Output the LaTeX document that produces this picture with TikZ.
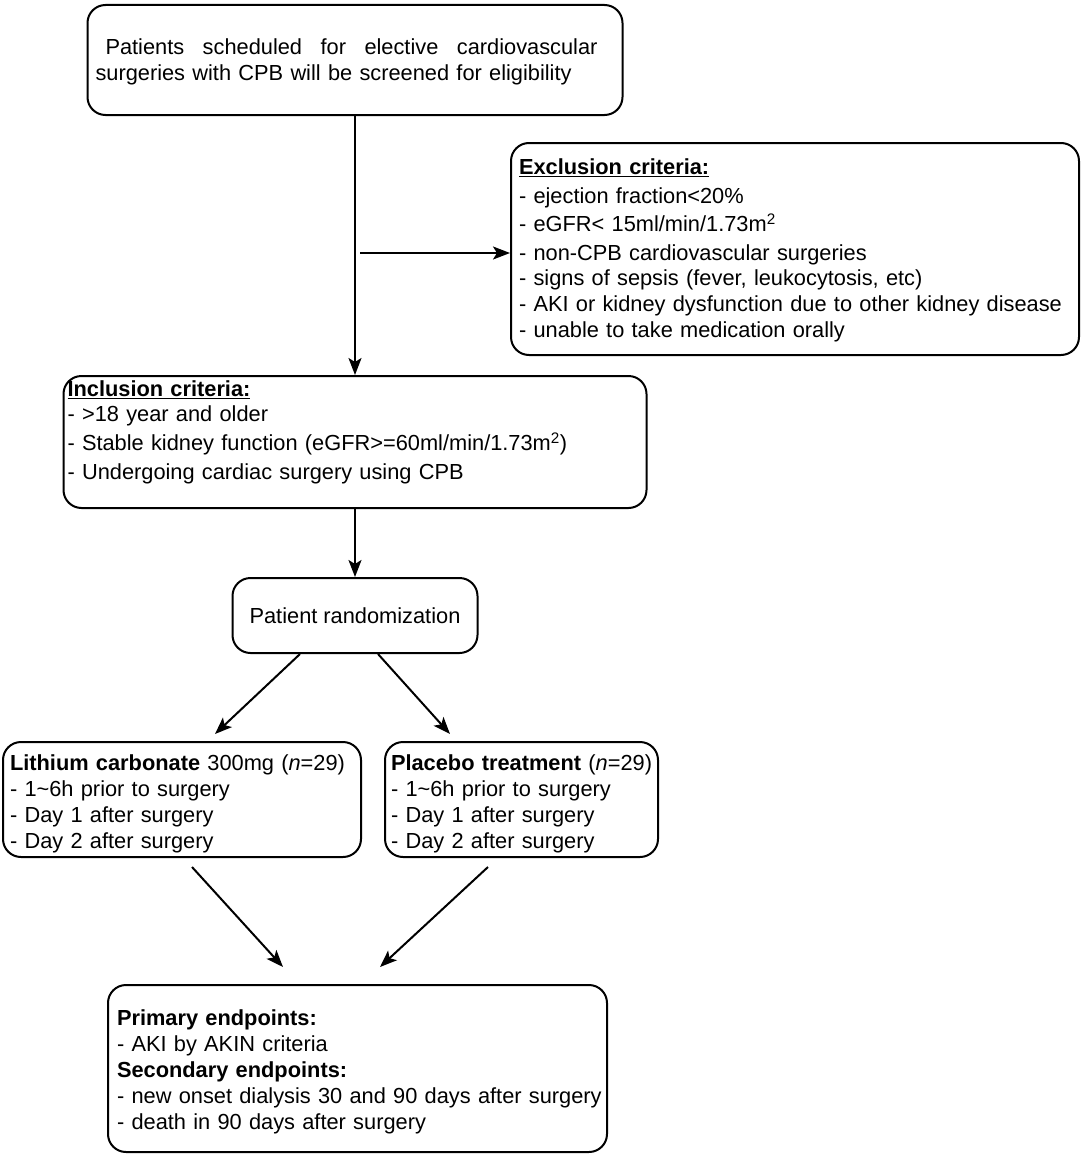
\documentclass[tikz,border=0pt]{standalone}
\usepackage{fontspec}
\setmainfont{Liberation Sans}
\usetikzlibrary{arrows.meta,calc}
\begin{document}
\begin{tikzpicture}[x=1pt,y=-1pt,
  box/.style={draw, line width=2pt, rounded corners=18pt, align=left,
    font=\fontsize{21.8}{26}\selectfont, inner ysep=0pt},
  arr/.style={line width=2pt, -{Stealth[length=17pt,width=13pt,inset=4pt]}}]
\fill[white] (0,0) rectangle (1084,1156);
\useasboundingbox (0,0) rectangle (1084,1156);

\node[box, minimum height=110pt, inner xsep=8pt, text width=519pt] (top) at (355,60)
  {\rule{0pt}{20pt}\hspace*{10pt}\makebox[492pt][l]{Patients\hfill scheduled\hfill for\hfill elective\hfill cardiovascular}\\
   surgeries with CPB will be screened for eligibility};

\node[box, minimum height=212pt, inner xsep=8pt, text width=552pt] (excl) at (795,249)
  {\rule{0pt}{19pt}\textbf{\underline{Exclusion criteria:}}\\[3pt]
   - ejection fraction<20\%\\[2pt]
   - eGFR< 15ml/min/1.73m\textsuperscript{2}\\[3pt]
   - non-CPB cardiovascular surgeries\\[-1pt]
   - signs of sepsis (fever, leukocytosis, etc)\\
   - AKI or kidney dysfunction due to other kidney disease\\
   - unable to take medication orally};

\node[box, minimum height=132pt, inner xsep=4pt, text width=575pt] (incl) at (355,442)
  {\textbf{\underline{Inclusion criteria:}}\\[-1pt]
   - >18 year and older\\[3pt]
   - Stable kidney function (eGFR>=60ml/min/1.73m\textsuperscript{2})\\[3pt]
   - Undergoing cardiac surgery using CPB\\[-3pt]\mbox{}};

\node[box, align=center, minimum width=245pt, minimum height=75pt] (rand) at (355,615.5)
  {Patient randomization};

\node[box, minimum height=115pt, inner xsep=7pt, text width=344pt] (lith) at (182,799.5)
  {\rule{0pt}{24pt}\mbox{\textbf{Lithium carbonate} 300mg (\textit{n}=29)}\\
   - 1\textasciitilde6h prior to surgery\\
   - Day 1 after surgery\\
   - Day 2 after surgery};

\node[box, minimum height=115pt, inner xsep=6pt, text width=261pt] (plac) at (521.5,799.5)
  {\rule{0pt}{24pt}\mbox{\textbf{Placebo treatment} (\textit{n}=29)}\\
   - 1\textasciitilde6h prior to surgery\\
   - Day 1 after surgery\\
   - Day 2 after surgery};

\node[box, minimum height=167pt, inner xsep=9pt, text width=481pt] (endp) at (357.5,1068.5)
  {\rule{0pt}{22pt}\textbf{Primary endpoints:}\\
   - AKI by AKIN criteria\\
   \textbf{Secondary endpoints:}\\
   \mbox{- new onset dialysis 30 and 90 days after surgery}\\
   - death in 90 days after surgery};

\draw[arr] (top.south) -- (incl.north);
\coordinate (ex0) at (360,253);
\draw[arr] (ex0) -- (ex0 -| excl.west);
\draw[arr] (incl.south) -- (rand.north);

\coordinate (rl0) at ($(rand.south)+(-55,0)$);
\coordinate (rl1) at ($(lith.north)+(33,-7)$);
\coordinate (rr0) at ($(rand.south)+(23,0)$);
\coordinate (rr1) at ($(plac.north)+(-71.5,-7)$);
\draw[arr] (rl0) -- (rl1);
\draw[arr] (rr0) -- (rr1);

\coordinate (ll0) at ($(lith.south)+(10,9)$);
\coordinate (ll1) at ($(endp.north)+(-74.5,-17)$);
\coordinate (pl0) at ($(plac.south)+(-33.5,9)$);
\coordinate (pl1) at ($(endp.north)+(22.5,-17)$);
\draw[arr] (ll0) -- (ll1);
\draw[arr] (pl0) -- (pl1);
\end{tikzpicture}
\end{document}
